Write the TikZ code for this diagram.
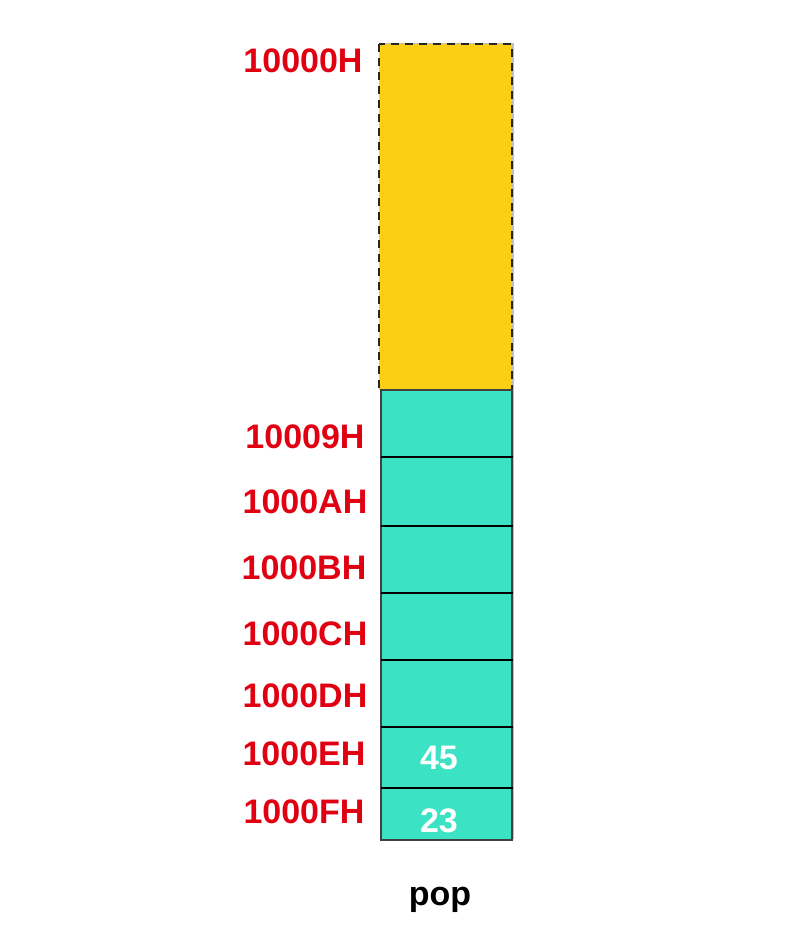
\documentclass[tikz,border=0pt]{standalone}
\usepackage{fontspec}
\setmainfont{Liberation Sans}
\usetikzlibrary{shadows}
\definecolor{stackyellow}{RGB}{251,207,20}
\definecolor{stackteal}{RGB}{59,227,196}
\definecolor{addrred}{RGB}{224,0,18}
\tikzset{
  addr/.style={text=addrred, font=\fontsize{34}{40}\selectfont\bfseries, inner sep=0pt, anchor=center},
  val/.style={text=white, font=\fontsize{34}{40}\selectfont\bfseries, inner sep=0pt},
  captiontext/.style={text=black, font=\fontsize{34}{40}\selectfont\bfseries, inner sep=0pt},
  divider/.style={draw=black, line width=2.4pt},
  freebox/.style={draw=black!85, fill=stackyellow, line width=1.3pt, dash pattern=on 8pt off 6pt,
    drop shadow={shadow xshift=1.5pt, shadow yshift=1.5pt, opacity=0.25, fill=black}},
  stackbox/.style={draw=black!75, fill=stackteal, line width=1.1pt,
    drop shadow={shadow xshift=1.5pt, shadow yshift=1.5pt, opacity=0.25, fill=black}},
}
\begin{document}
\begin{tikzpicture}[x=1pt,y=-1pt]
\useasboundingbox (0,0) rectangle (812,930);
% free region
\path[freebox] (379,44) rectangle (512,390);
% stack column
\path[stackbox] (381,390) rectangle (512,840);
\coordinate (L1) at (381,457); \coordinate (R1) at (513,457);
\coordinate (L2) at (381,526); \coordinate (R2) at (513,526);
\coordinate (L3) at (381,593); \coordinate (R3) at (513,593);
\coordinate (L4) at (381,660); \coordinate (R4) at (513,660);
\coordinate (L5) at (381,727); \coordinate (R5) at (513,727);
\coordinate (L6) at (381,788); \coordinate (R6) at (513,788);
\foreach \i in {1,...,6} \draw[divider] (L\i) -- (R\i);
% values
\node[val] (v45) at (439,758) {45};
\node[val] (v23) at (439,821) {23};
% addresses
\node[addr] (a0) at (303,61) {10000H};
\node[addr] (a9) at (305,437) {10009H};
\node[addr] (aA) at (305,502) {1000AH};
\node[addr] (aB) at (304,568) {1000BH};
\node[addr] (aC) at (305,634) {1000CH};
\node[addr] (aD) at (305,696) {1000DH};
\node[addr] (aE) at (304,754) {1000EH};
\node[addr] (aF) at (304,812) {1000FH};
% caption
\node[captiontext] (pop) at (440,900) {pop};
\end{tikzpicture}
\end{document}
